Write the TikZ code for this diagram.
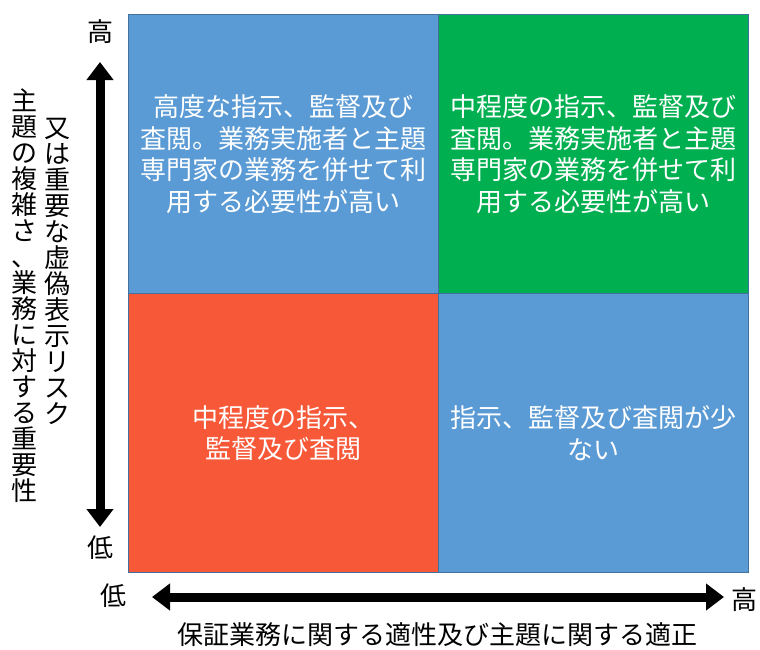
\documentclass[tikz,border=0pt]{standalone}
\usepackage{fontspec}
\setmainfont{Noto Sans CJK JP}
\usetikzlibrary{arrows.meta}
\definecolor{quadblue}{RGB}{91,155,213}
\definecolor{quadgreen}{RGB}{0,176,80}
\definecolor{quadred}{RGB}{247,88,56}
\definecolor{edgeblue}{RGB}{65,113,156}

\begin{document}
\begin{tikzpicture}[x=1pt, y=-1pt,
	quad/.style={draw=edgeblue, line width=0.8pt, minimum width=310pt, minimum height=279pt, text=white, align=center, inner sep=0pt, font=\fontsize{26}{31.5}\selectfont},
	axislbl/.style={inner sep=0pt, font=\fontsize{26}{26}\selectfont},
	bigarrow/.style={line width=9pt, {Triangle[length=18pt,width=26pt]}-{Triangle[length=18pt,width=26pt]}}]
	\useasboundingbox (0,0) rectangle (760,649);
	
	\node [quad, fill=quadblue] (hiLow) at (283,154) {高度な指示、監督及び\\査閲。業務実施者と主題\\専門家の業務を併せて利\\用する必要性が高い};
	\node [quad, fill=quadgreen] (hiHigh) at (593,154) {中程度の指示、監督及び\\査閲。業務実施者と主題\\専門家の業務を併せて利\\用する必要性が高い};
	\node [quad, fill=quadred] (loLow) at (283,433) {中程度の指示、\\監督及び査閲};
	\node [quad, fill=quadblue] (loHigh) at (593,433) {指示、監督及び査閲が少\\ない};
	
	\node [axislbl] (yHigh) at (100,32) {高};
	\node [axislbl] (yLow) at (100,548) {低};
	\node [axislbl] (xLow) at (113,596) {低};
	\node [axislbl] (xHigh) at (744,600) {高};
	
	\coordinate (yTop) at (100,62);
	\coordinate (yBot) at (100,527);
	\coordinate (xLeft) at (152,597);
	\coordinate (xRight) at (724,597);
	\draw [bigarrow] (yTop) -- (yBot);
	\draw [bigarrow] (xLeft) -- (xRight);
	
	\node [axislbl] (xTitle) at (437,635) {保証業務に関する適性及び主題に関する適正};
	\node [axislbl, align=center] (yTitleA) at (24,296) {主\\題\\の\\複\\雑\\さ\\、\\業\\務\\に\\対\\す\\る\\重\\要\\性};
	\node [axislbl, align=center] (yTitleB) at (57,271) {又\\は\\重\\要\\な\\虚\\偽\\表\\示\\リ\\ス\\ク};
\end{tikzpicture}
\end{document}
